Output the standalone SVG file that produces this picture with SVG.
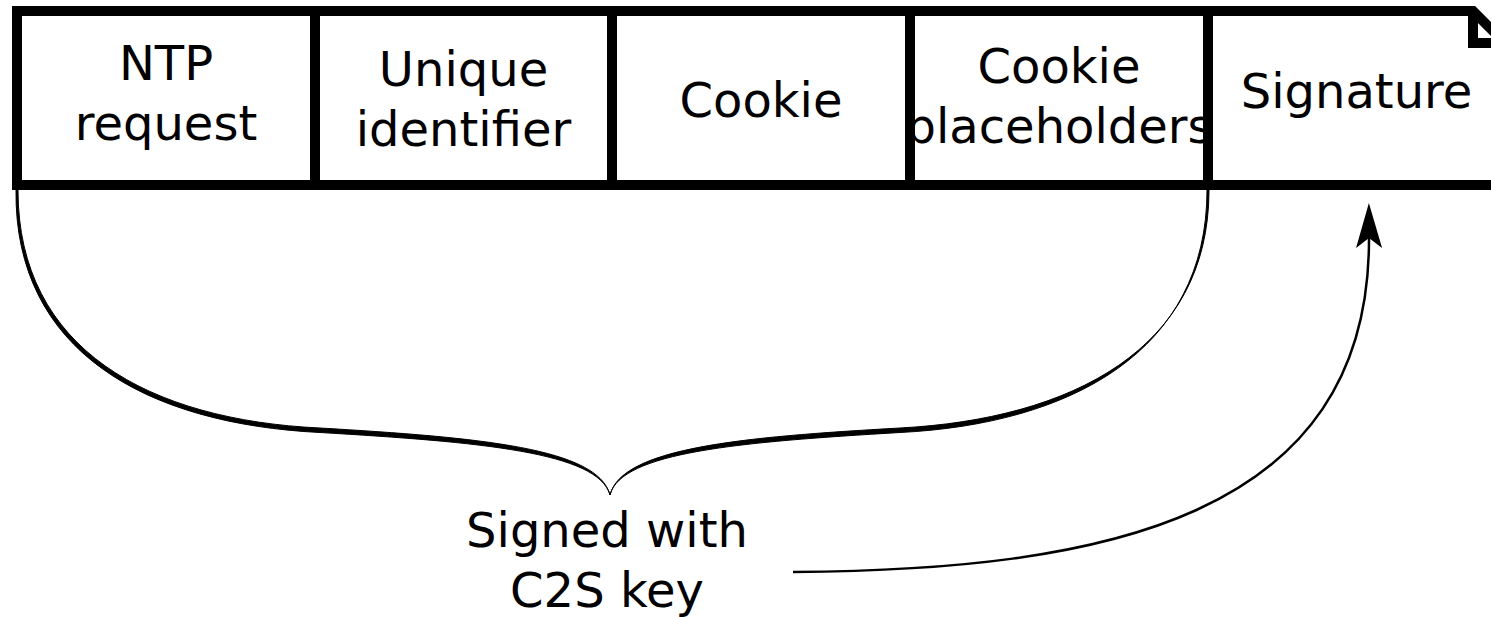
<svg xmlns="http://www.w3.org/2000/svg" width="1491" height="617" viewBox="0 0 1491 617">
<style>
.bg{fill:#fff;stroke:none}
.frame{fill:none;stroke:#000;stroke-width:10;stroke-linejoin:miter}
.t{font-family:"DejaVu Sans",sans-serif;font-size:48px;fill:#000;text-anchor:middle}
.conn{fill:none;stroke:#000;stroke-width:2.5}
.brace{fill:#000;stroke:#000;stroke-width:1}
</style>
<defs>
<marker id="arr" viewBox="0 0 45 26" markerWidth="45" markerHeight="26" markerUnits="userSpaceOnUse" refX="10" refY="13" orient="auto">
<path d="M45,13 L0,0 L10,13 L0,26 Z" fill="#000"/>
</marker>
</defs>
<rect width="1491" height="617" fill="#fff"/>
<g id="node-ntp">
<rect class="bg" x="17" y="11" width="298" height="174"/>
<text class="t" x="166" y="80">NTP</text>
<text class="t" x="166" y="140">request</text>
<rect class="frame" x="17" y="11" width="298" height="174"/>
</g>
<g id="node-uid">
<rect class="bg" x="315" y="11" width="297" height="174"/>
<text class="t" x="463.5" y="86">Unique</text>
<text class="t" x="463.5" y="146">identifier</text>
<rect class="frame" x="315" y="11" width="297" height="174"/>
</g>
<g id="node-cookie">
<rect class="bg" x="612" y="11" width="298" height="174"/>
<text class="t" x="761" y="117">Cookie</text>
<rect class="frame" x="612" y="11" width="298" height="174"/>
</g>
<g id="node-placeholders">
<rect class="bg" x="910" y="11" width="298" height="174"/>
<text class="t" x="1059" y="83">Cookie</text>
<text class="t" x="1059" y="143">placeholders</text>
<rect class="frame" x="910" y="11" width="298" height="174"/>
</g>
<g id="node-signature">
<path d="M1208,11 L1473,11 L1505,43 L1505,185 L1208,185 Z" fill="#fff"/>
<text class="t" x="1356.5" y="108">Signature</text>
<path class="frame" d="M1208,11 L1473,11 L1505,43 L1505,185 L1208,185 Z"/>
<path class="frame" d="M1473,11 L1473,43 L1505,43"/>
</g>
<g id="brace">
<path class="brace" d="M18,190 C18,350 150,420 320,428 C480,437.5 598,448 610,495 C598,452 480,442 320,432.5 C147,424 14,352 16,190 Z"/>
<path class="brace" d="M610,495 C622,448 740,437 900,428 C1070,419 1209,350 1209,190 L1207,190 C1207,352 1070,424 900,432.5 C740,442 621,452 610,495 Z"/>
</g>
<g id="label">
<text class="t" x="607" y="547">Signed with</text>
<text class="t" x="607" y="607">C2S key</text>
</g>
<g id="connectors">
<path class="conn" d="M793,572 C1100,570 1370,520 1369,238" marker-end="url(#arr)"/>
</g>
</svg>
